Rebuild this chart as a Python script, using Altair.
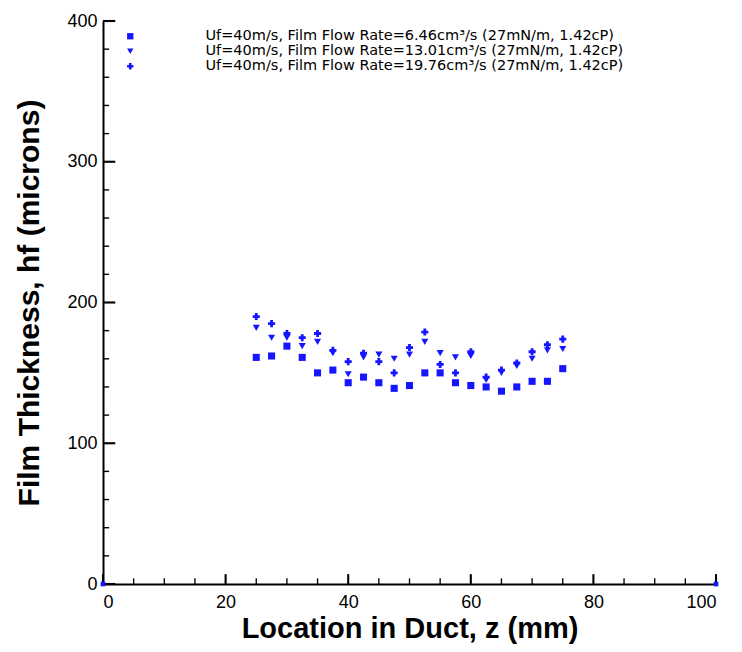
import altair as alt
import pandas as pd

# ---- data ----
z_mm = [25, 27.5, 30, 32.5, 35, 37.5, 40, 42.5, 45, 47.5, 50,
        52.5, 55, 57.5, 60, 62.5, 65, 67.5, 70, 72.5, 75]
h_rate1 = [161, 162, 169, 161, 150, 152, 143, 147, 143, 139, 141,
           150, 150, 143, 141, 140, 137, 140, 144, 144, 153]
h_rate2 = [182, 175, 175, 169, 172, 164, 149, 161, 163, 160, 163,
           172, 164, 161, 162, 145, 150, 155, 160, 166, 167]
h_rate3 = [190, 185, 178, 175, 178, 166, 158, 164, 158, 150, 168,
           179, 156, 150, 165, 147, 152, 157, 165, 170, 174]
series_names = [
    "Uf=40m/s, Film Flow Rate=6.46cm³/s (27mN/m, 1.42cP)",
    "Uf=40m/s, Film Flow Rate=13.01cm³/s (27mN/m, 1.42cP)",
    "Uf=40m/s, Film Flow Rate=19.76cm³/s (27mN/m, 1.42cP)",
]
corner_z = [0, 100]
corner_h = [0, 0]

x_major = [0, 20, 40, 60, 80, 100]
x_minor = [v for v in range(0, 101, 5) if v % 20 != 0]
y_major = [0, 100, 200, 300, 400]
y_minor = [v for v in range(0, 401, 20) if v % 100 != 0]

W, H = 613, 563
BLUE = "#1515ff"

rows = []
for name, vals in zip(series_names, [h_rate1, h_rate2, h_rate3]):
    for zz, hh in zip(z_mm, vals):
        rows.append({"z": zz, "h": hh, "series": name})
df = pd.DataFrame(rows)


def tick_rects(xvals, yvals, xlen, ylen, xhalf, yhalf):
    # thin inward tick marks, expressed in data units
    out = []
    for v in xvals:
        out.append({"z": v - xhalf, "z2": v + xhalf, "h": 0, "h2": ylen})
    for v in yvals:
        out.append({"z": 0, "z2": xlen, "h": v - yhalf, "h2": v + yhalf})
    return pd.DataFrame(out)


major_ticks = tick_rects(x_major, y_major, 2.0, 7.0, 0.17, 0.75)
minor_ticks = tick_rects(x_minor, y_minor, 1.0, 4.0, 0.11, 0.5)

xscale = alt.Scale(domain=[0, 100], nice=False, zero=False)
yscale = alt.Scale(domain=[0, 400], nice=False, zero=False)

xaxis = alt.Axis(values=x_major, title="Location in Duct, z (mm)", labelPadding=9,
                 titlePadding=3, format="d", titleFontSize=29)
yaxis = alt.Axis(values=y_major, title="Film Thickness, hf (microns)", labelPadding=6,
                 titlePadding=22, format="d", titleFontSize=30)

xenc = alt.X("z:Q", scale=xscale, axis=xaxis)
yenc = alt.Y("h:Q", scale=yscale, axis=yaxis)

points = alt.Chart(df).mark_point(filled=True, opacity=1).encode(
    x=xenc,
    y=yenc,
    shape=alt.Shape("series:N", sort=series_names,
                    scale=alt.Scale(domain=series_names,
                                    range=["square", "triangle-down", "cross"]),
                    legend=alt.Legend(title=None, orient="none", legendX=20, legendY=8,
                                      labelOffset=68, labelFontSize=14.5,
                                      labelFont="DejaVu Sans", labelColor="black",
                                      labelLimit=0, rowPadding=0, padding=0,
                                      symbolSize=40, symbolFillColor=BLUE,
                                      symbolStrokeColor=BLUE, symbolType="square")),
    color=alt.value(BLUE),
    size=alt.value(50),
)

corners = alt.Chart(pd.DataFrame({"z": corner_z, "h": corner_h})).mark_square(
    color=BLUE, size=22, opacity=1).encode(x=xenc, y=yenc)

ticks_major = alt.Chart(major_ticks).mark_rect(color="black", opacity=1).encode(
    x=xenc, x2="z2:Q", y=yenc, y2="h2:Q")
ticks_minor = alt.Chart(minor_ticks).mark_rect(color="black", opacity=1).encode(
    x=xenc, x2="z2:Q", y=yenc, y2="h2:Q")

chart = alt.layer(ticks_major, ticks_minor, corners, points).properties(
    width=W, height=H,
    autosize=alt.AutoSizeParams(type="none"),
    padding={"left": 95, "top": 13, "right": 14, "bottom": 60},
).configure_view(stroke=None).configure_axis(
    grid=False, ticks=False, domainColor="black", domainWidth=2,
    labelFont="Liberation Sans", labelFontSize=18, labelColor="black",
    titleFont="Liberation Sans", titleFontWeight="bold",
    titleColor="black",
)

chart.save("out.html", embed_options={"renderer": "svg", "actions": False})
